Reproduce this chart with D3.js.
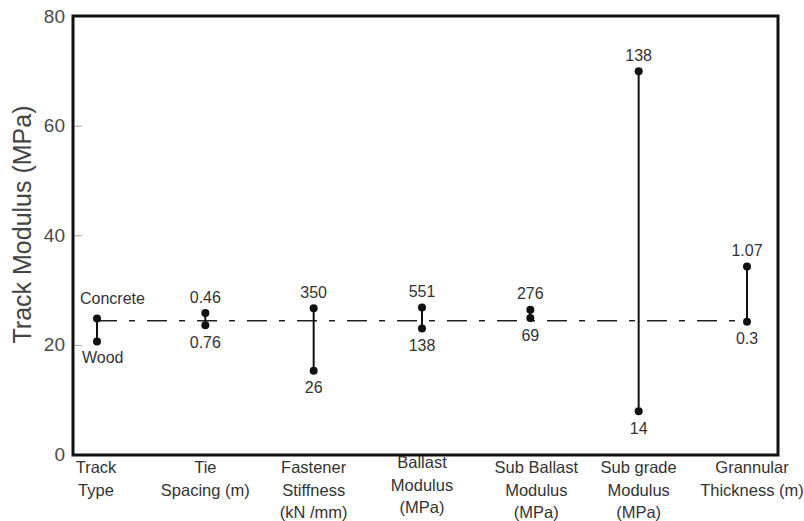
<!DOCTYPE html>
<html>
<head>
<meta charset="utf-8">
<script src="https://cdn.jsdelivr.net/npm/d3@7"></script>
<style>
  html, body { margin: 0; padding: 0; background: #fff; }
  svg { display: block; font-family: "Liberation Sans", Arial, sans-serif; }
</style>
</head>
<body>
<svg id="chart" width="804" height="521"></svg>
<script>
// ---- data ----
const categories = ["Track Type", "Tie Spacing", "Fastener Stiffness", "Ballast Modulus",
                    "Sub Ballast Modulus", "Sub grade Modulus", "Grannular Thickness"];
const categoryLines = [
  ["Track", "Type"],
  ["Tie", "Spacing (m)"],
  ["Fastener", "Stiffness", "(kN /mm)"],
  ["Ballast", "Modulus", "(MPa)"],
  ["Sub Ballast", "Modulus", "(MPa)"],
  ["Sub grade", "Modulus", "(MPa)"],
  ["Grannular", "Thickness (m)"]
];
const highValues = [24.8, 25.8, 26.7, 26.8, 26.4, 69.9, 34.3];
const lowValues  = [20.6, 23.6, 15.3, 23.0, 24.9, 7.9, 24.2];
const highLabels = ["Concrete", "0.46", "350", "551", "276", "138", "1.07"];
const lowLabels  = ["Wood", "0.76", "26", "138", "69", "14", "0.3"];
const baselineValue = 24.4;
const yTicks = [0, 20, 40, 60, 80];
const yTitle = "Track Modulus (MPa)";

// ---- layout ----
const svg = d3.select("#chart");
const frame = { left: 73, right: 778, top: 16, bottom: 455 };

const y = d3.scaleLinear().domain([0, 80]).range([454.5, 16]);
const x = d3.scalePoint().domain(categories).range([97, 747]);

// y axis ticks (inward) and labels
const yAxis = d3.axisLeft(y).tickValues(yTicks).tickSize(-9).tickPadding(8);
const gy = svg.append("g").attr("transform", `translate(${frame.left},0)`).call(yAxis);
gy.select(".domain").remove();
gy.selectAll(".tick line").attr("stroke", "#aaa").attr("stroke-width", 1)
  .attr("display", d => (d === 0 || d === 80) ? "none" : null);
gy.selectAll(".tick text").attr("fill", "#4a4a4a").style("font-size", "19px")
  .attr("font-family", "'Liberation Sans', Arial, sans-serif");

// y title
svg.append("text")
  .attr("transform", `translate(22,${(97 + 352) / 2}) rotate(-90)`)
  .attr("text-anchor", "middle").attr("dominant-baseline", "central")
  .attr("fill", "#444").style("font-size", "25px")
  .text(yTitle);

// frame
svg.append("rect")
  .attr("x", frame.left).attr("y", frame.top)
  .attr("width", frame.right - frame.left).attr("height", frame.bottom - frame.top)
  .attr("fill", "none").attr("stroke", "#111").attr("stroke-width", 3);

// baseline dashed
svg.append("line")
  .attr("x1", x(categories[0])).attr("x2", x(categories[categories.length - 1]))
  .attr("y1", y(baselineValue)).attr("y2", y(baselineValue))
  .attr("stroke", "#222").attr("stroke-width", 1.5)
  .attr("stroke-dasharray", "20,12,6,12");

// ranges
const rows = categories.map((c, i) => ({ c, i, hi: highValues[i], lo: lowValues[i] }));
const g = svg.append("g");
g.selectAll("line.range").data(rows).join("line")
  .attr("class", "range")
  .attr("x1", d => x(d.c)).attr("x2", d => x(d.c))
  .attr("y1", d => y(d.hi)).attr("y2", d => y(d.lo))
  .attr("stroke", "#111").attr("stroke-width", 2);
g.selectAll("circle.hi").data(rows).join("circle")
  .attr("class", "hi").attr("cx", d => x(d.c)).attr("cy", d => y(d.hi)).attr("r", 4).attr("fill", "#111");
g.selectAll("circle.lo").data(rows).join("circle")
  .attr("class", "lo").attr("cx", d => x(d.c)).attr("cy", d => y(d.lo)).attr("r", 4).attr("fill", "#111");

// value labels
g.selectAll("text.hiL").data(rows).join("text")
  .attr("class", "hiL")
  .attr("x", d => d.i === 0 ? x(d.c) - 17 : x(d.c))
  .attr("y", d => d.i === 0 ? y(d.hi) - 20 : y(d.hi) - 16)
  .attr("text-anchor", d => d.i === 0 ? "start" : "middle")
  .attr("dominant-baseline", "central")
  .attr("fill", "#333").style("font-size", "16px")
  .text(d => highLabels[d.i]);
g.selectAll("text.loL").data(rows).join("text")
  .attr("class", "loL")
  .attr("x", d => d.i === 0 ? x(d.c) - 15 : x(d.c))
  .attr("y", d => d.i === 0 ? y(d.lo) + 16 : y(d.lo) + 17)
  .attr("text-anchor", d => d.i === 0 ? "start" : "middle")
  .attr("dominant-baseline", "central")
  .attr("fill", "#333").style("font-size", "16px")
  .text(d => lowLabels[d.i]);

// category labels
const labelShift = [-1, 0, 0, 0, 6, 0, 5];
const cg = svg.append("g");
rows.forEach(d => {
  const t = cg.append("text")
    .attr("x", x(d.c)).attr("y", d.i === 3 ? 462 : 467)
    .attr("text-anchor", "middle").attr("dominant-baseline", "central")
    .attr("fill", "#333").style("font-size", "16.5px");
  categoryLines[d.i].forEach((line, k) => {
    t.append("tspan").attr("x", x(d.c) + labelShift[d.i]).attr("dy", k === 0 ? 0 : 22.5).text(line);
  });
});
</script>
</body>
</html>
